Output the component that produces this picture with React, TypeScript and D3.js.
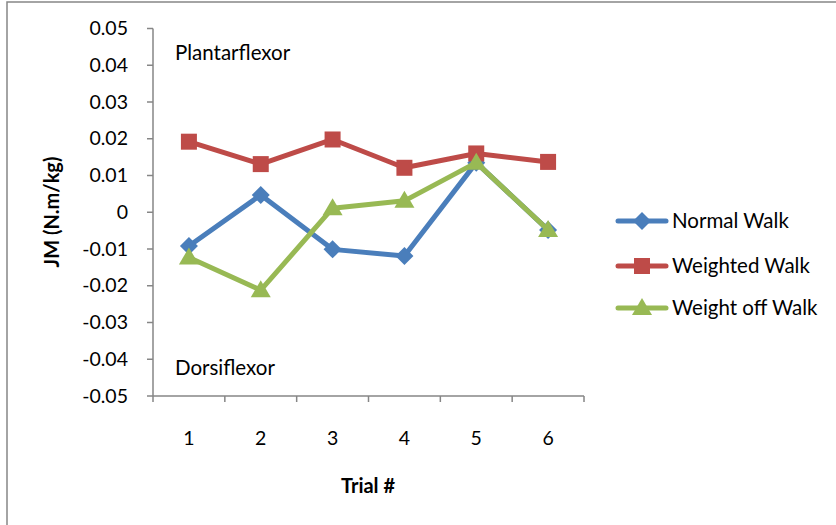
import React from "react";
import * as d3 from "d3";

const trials = ["1", "2", "3", "4", "5", "6"];
const normalWalk = [-0.0092, 0.0047, -0.0101, -0.0119, 0.0135, -0.0048];
const weightedWalk = [0.0192, 0.0131, 0.0198, 0.0121, 0.016, 0.0137];
const weightOffWalk = [-0.0123, -0.0212, 0.0011, 0.0031, 0.0135, -0.0048];
const yTicks = [0.05, 0.04, 0.03, 0.02, 0.01, 0, -0.01, -0.02, -0.03, -0.04, -0.05];
const seriesNames = ["Normal Walk", "Weighted Walk", "Weight off Walk"];

const FONT = "Lato, 'Open Sans', sans-serif";

export default function App() {
  const left = 153, right = 584, top = 28.5, bottom = 396;
  const x = d3.scaleBand<string>().domain(trials).range([left, right]).padding(0);
  const y = d3.scaleLinear().domain([-0.05, 0.05]).range([bottom, top]);
  const cx = (t: string) => (x(t) as number) + x.bandwidth() / 2;

  const series = [
    { name: seriesNames[0], values: normalWalk, color: "#4A7EBB", shape: "diamond" },
    { name: seriesNames[1], values: weightedWalk, color: "#BE4B48", shape: "square" },
    { name: seriesNames[2], values: weightOffWalk, color: "#98B954", shape: "triangle" },
  ];

  const line = d3.line<number>().x((_, i) => cx(trials[i])).y((v) => y(v));

  const marker = (shape: string, px: number, py: number, color: string, key: any) => {
    if (shape === "square")
      return <rect key={key} x={px - 8} y={py - 8} width={16} height={16} fill={color} />;
    if (shape === "diamond")
      return (
        <path key={key} d={`M${px},${py - 9}L${px + 9},${py}L${px},${py + 9}L${px - 9},${py}Z`} fill={color} />
      );
    return (
      <path key={key} d={`M${px},${py - 10}L${px + 10},${py + 7}L${px - 10},${py + 7}Z`} fill={color} />
    );
  };

  const legendY = [221, 266, 308];

  return (
    <svg
      width={836}
      height={525}
      style={{ position: "absolute", left: 0, top: 0, background: "#fff" }}
      fontFamily={FONT}
    >
      <rect x={7} y={2} width={840} height={540} fill="none" stroke="#868686" strokeWidth={1.5} />
      {/* y axis */}
      <line x1={left} x2={left} y1={top} y2={bottom} stroke="#868686" strokeWidth={1.5} />
      {yTicks.map((t) => (
        <g key={t}>
          <line x1={left - 6} x2={left} y1={y(t)} y2={y(t)} stroke="#868686" strokeWidth={1.5} />
          <text x={128} y={y(t) + 6.5} textAnchor="end" fontSize={19.5} fill="#000">
            {t === 0 ? "0" : t.toFixed(2)}
          </text>
        </g>
      ))}
      {/* x axis */}
      <line x1={left} x2={right} y1={bottom} y2={bottom} stroke="#868686" strokeWidth={1.5} />
      {trials.map((t, i) => (
        <line key={"xt" + i} x1={x(t) as number} x2={x(t) as number} y1={bottom} y2={bottom + 6} stroke="#868686" strokeWidth={1.5} />
      ))}
      <line x1={right} x2={right} y1={bottom} y2={bottom + 6} stroke="#868686" strokeWidth={1.5} />
      {trials.map((t) => (
        <text key={"xl" + t} x={cx(t)} y={445} textAnchor="middle" fontSize={19.5} fill="#000">
          {t}
        </text>
      ))}
      <text x={368} y={493} textAnchor="middle" fontSize={20} fontWeight="bold" fill="#000">
        Trial #
      </text>
      <text
        transform={`translate(59,212) rotate(-90)`}
        textAnchor="middle"
        fontSize={20}
        fontWeight="bold"
        fill="#000"
      >
        JM (N.m/kg)
      </text>
      <text x={175} y={60} fontSize={20.5} fill="#000">Plantarflexor</text>
      <text x={175} y={375} fontSize={20.5} fill="#000">Dorsiflexor</text>
      {series.map((s) => (
        <g key={s.name}>
          <path d={line(s.values) || ""} fill="none" stroke={s.color} strokeWidth={5} strokeLinejoin="round" />
          {s.values.map((v, i) => marker(s.shape, cx(trials[i]), y(v), s.color, i))}
        </g>
      ))}
      {series.map((s, i) => (
        <g key={"lg" + s.name}>
          <line x1={618} x2={666} y1={legendY[i]} y2={legendY[i]} stroke={s.color} strokeWidth={5} strokeLinecap="round" />
          {marker(s.shape, 642, legendY[i], s.color, "m")}
          <text x={672} y={legendY[i] + 7} fontSize={20.5} fill="#000">{s.name}</text>
        </g>
      ))}
    </svg>
  );
}
